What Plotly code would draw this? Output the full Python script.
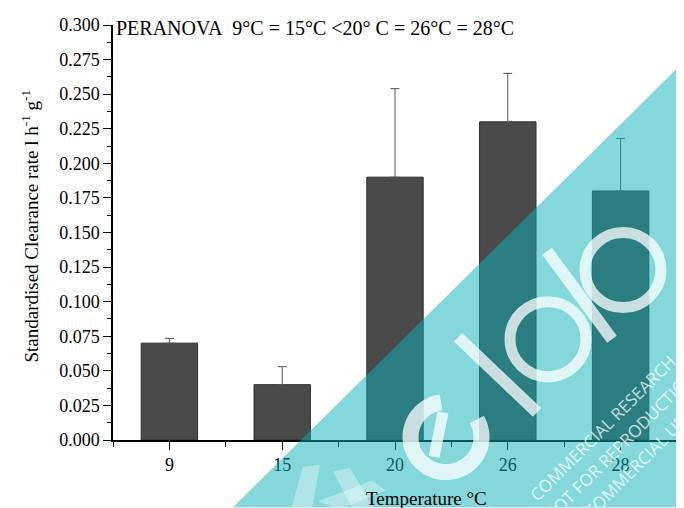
import numpy as np
import plotly.graph_objects as go

categories = ["9", "15", "20", "26", "28"]
clearance = [0.070, 0.040, 0.190, 0.230, 0.180]
err_plus = [0.0035, 0.013, 0.064, 0.035, 0.038]
y_ticks = [0.000, 0.025, 0.050, 0.075, 0.100, 0.125, 0.150, 0.175, 0.200,
           0.225, 0.250, 0.275, 0.300]

# page body adds an 8px offset; figure sized to fill the rest of the window
OFF = 8
W, H = 676, 500
L, R, T, B = 105, 7, 12, 68
PW, PH = W - L - R, H - T - B


def px(x):
    """screen pixel x -> paper x"""
    return (x - OFF - L) / PW


def py(y):
    """screen pixel y -> paper y"""
    return (H - B - (y - OFF)) / PH


font_serif = "Liberation Serif, Times New Roman, serif"
xpos = list(range(len(categories)))

fig = go.Figure()
fig.add_trace(go.Bar(
    x=xpos, y=clearance, width=0.5,
    marker=dict(color="#4a4a4a", line=dict(color="#2e2e2e", width=1)),
    error_y=dict(type="data", symmetric=False, array=err_plus,
                 arrayminus=[0] * len(err_plus),
                 color="#555555", thickness=1, width=4.5),
    showlegend=False,
))

fig.update_layout(
    width=W, height=H,
    margin=dict(l=L, r=R, t=T, b=B),
    plot_bgcolor="white", paper_bgcolor="white",
    font=dict(family=font_serif, size=18, color="black"),
)

fig.update_xaxes(
    range=[-0.5, len(categories) - 0.5],
    tickmode="array", tickvals=xpos, ticktext=categories,
    ticks="outside", ticklen=8, tickwidth=1.3, tickcolor="black",
    showline=True, linecolor="black", linewidth=1.5,
    showgrid=False, zeroline=False,
    tickfont=dict(family=font_serif, size=18),
    minor=dict(tickmode="linear", tick0=-0.5, dtick=1, ticks="outside",
               ticklen=5, tickwidth=1.3, tickcolor="black", showgrid=False),
)
fig.update_yaxes(
    range=[0, 0.3],
    tickmode="array", tickvals=y_ticks,
    ticktext=[f"{v:.3f}" for v in y_ticks],
    ticks="outside", ticklen=8, tickwidth=1.3, tickcolor="black",
    showline=True, linecolor="black", linewidth=1.5,
    showgrid=False, zeroline=False,
    tickfont=dict(family=font_serif, size=18),
    minor=dict(tickmode="linear", tick0=0.0125, dtick=0.025, ticks="outside",
               ticklen=4, tickwidth=1.3, tickcolor="black", showgrid=False),
)

# chart title inside plot
fig.add_annotation(
    x=px(114), y=py(23), xref="paper", yref="paper",
    xanchor="left", yanchor="middle", showarrow=False,
    text="PERANOVA\u00a0 9°C = 15°C <20° C = 26°C = 28°C",
    font=dict(family=font_serif, size=20, color="black"),
)
# axis titles
fig.add_annotation(
    x=px(30), y=py(224), xref="paper", yref="paper",
    xanchor="center", yanchor="middle", showarrow=False, textangle=-90,
    text="Standardised Clearance rate l h<sup>-1</sup> g<sup>-1</sup>",
    font=dict(family=font_serif, size=19, color="black"),
)
fig.add_annotation(
    x=px(426), y=py(499), xref="paper", yref="paper",
    xanchor="center", yanchor="middle", showarrow=False,
    text="Temperature °C",
    font=dict(family=font_serif, size=19, color="black"),
)

# ---- watermark overlay ----
tri = "M {} {} L {} {} L {} {} Z".format(px(233), py(508), px(690), py(51),
                                         px(690), py(508))
fig.add_shape(type="path", path=tri, xref="paper", yref="paper",
              fillcolor="rgba(10,177,184,0.5)", line=dict(width=0),
              layer="above")

WM = "rgba(255,255,255,0.75)"
WF = "rgba(255,255,255,0.35)"


def poly(points, close=False):
    s = "M " + " L ".join(f"{px(x):.5f},{py(y):.5f}" for x, y in points)
    return s + (" Z" if close else "")


def stroke(x0, y0, x1, y1, w):
    fig.add_shape(type="line", xref="paper", yref="paper",
                  x0=px(x0), y0=py(y0), x1=px(x1), y1=py(y1),
                  line=dict(color=WM, width=w), layer="above")


def ring(cx, cy, r, w):
    fig.add_shape(type="circle", xref="paper", yref="paper",
                  x0=px(cx - r), y0=py(cy + r), x1=px(cx + r), y1=py(cy - r),
                  line=dict(color=WM, width=w), fillcolor="rgba(0,0,0,0)",
                  layer="above")


# faint flower-like mark at the lower left of the band
for pts in [[(303, 467), (320, 465), (312, 510), (291, 510)],
            [(333, 472), (350, 468), (374, 510), (353, 510)],
            [(318, 502), (372, 481), (386, 491), (340, 510)]]:
    fig.add_shape(type="path", path=poly(pts, True), xref="paper",
                  yref="paper", fillcolor=WF, line=dict(width=0),
                  layer="above")

# "e" : open ring + inner bar
ang = np.radians(np.linspace(-30, 262, 60))
e_pts = [(446 + 35.5 * np.cos(a), 437 + 35.5 * np.sin(a)) for a in ang]
fig.add_shape(type="path", path=poly(e_pts), xref="paper", yref="paper",
              line=dict(color=WM, width=16), layer="above")
stroke(443, 412, 434, 457, 11)
# "l"
stroke(458, 336, 537, 412, 12)
# "a" and "b" bowls with shared stem
ring(548, 338, 38, 11)
stroke(547, 249, 612, 338, 12)
ring(623, 268, 38, 11)

for txt, cx, cy in [("COMMERCIAL RESEARCH", 602, 428),
                    ("NOT FOR REPRODUCTION", 620, 446),
                    ("COMMERCIAL USE", 638, 464)]:
    fig.add_annotation(
        x=px(cx), y=py(cy), xref="paper", yref="paper", showarrow=False,
        xanchor="center", yanchor="middle",
        text=txt, textangle=-45,
        font=dict(family="Open Sans, sans-serif", size=17, color=WM),
    )

fig.write_html("out.html")
